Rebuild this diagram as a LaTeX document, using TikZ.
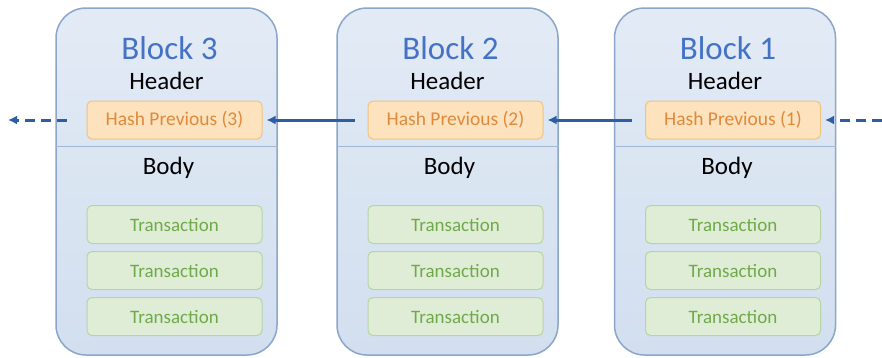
\documentclass[tikz,border=0pt]{standalone}
\usepackage{fontspec}
\setmainfont{Carlito}
\usetikzlibrary{arrows.meta,positioning,calc}
\definecolor{blkfill}{HTML}{D6E2F1}
\definecolor{blkline}{HTML}{8AA6CB}
\definecolor{blktitle}{HTML}{4472C4}
\definecolor{hashfill}{HTML}{FCE3BD}
\definecolor{hashline}{HTML}{F2C27A}
\definecolor{hashtext}{HTML}{E0893B}
\definecolor{txfill}{HTML}{E0EDD6}
\definecolor{txline}{HTML}{B7D4A3}
\definecolor{txtext}{HTML}{6FAA4A}
\definecolor{chain}{HTML}{2F5DA3}

\tikzset{
  blockbox/.style={draw=blkline, line width=1.5pt, rounded corners=30pt, top color=blkfill!70!white, bottom color=blkfill!95!blkline, minimum width=221pt, minimum height=347pt},
  hashbox/.style={draw=hashline, line width=1pt, fill=hashfill, rounded corners=5pt, minimum width=175pt, minimum height=38pt, text=hashtext, font=\fontsize{19.5}{21}\selectfont},
  txbox/.style={draw=txline, line width=1pt, fill=txfill, rounded corners=5pt, minimum width=175pt, minimum height=38pt, text=txtext, font=\fontsize{19}{21}\selectfont},
  link/.style={chain, line width=3pt, -{Latex[length=9pt,width=9pt]}},
}

\begin{document}
\begin{tikzpicture}[x=1pt,y=-1pt]
\useasboundingbox (0,0) rectangle (882,357);
\foreach \n/\x in {3/166.5, 2/447.5, 1/725} {
  \node[blockbox] (blk\n) at (\x,181.5) {};
  \node[text=blktitle, font=\fontsize{33}{35}\selectfont] (title\n) at (\x+3,48) {Block \n};
  \node[font=\fontsize{25}{27}\selectfont] (head\n) at (\x,81) {Header};
  \node[hashbox] (hash\n) at (\x+8,120) {Hash Previous (\n)};
  \draw[blkline!80!white, line width=1pt] (blk\n.west |- 0,146) -- (blk\n.east |- 0,146);
  \node[font=\fontsize{25}{27}\selectfont] (body\n) at (\x+2,168) {Body};
  \node[txbox] (txa\n) at (\x+8,224.5) {Transaction};
  \node[txbox, below=7pt of txa\n] (txb\n) {Transaction};
  \node[txbox, below=7pt of txb\n] (txc\n) {Transaction};
}
% links between blocks
\coordinate (farleft) at (8,120);
\coordinate (farright) at (882,120);
\draw[link] ([xshift=-13pt]hash2.west) -- ([xshift=4pt]hash3.east);
\draw[link] ([xshift=-13pt]hash1.west) -- ([xshift=4pt]hash2.east);
\draw[link, dashed, dash pattern=on 10pt off 6pt] ([xshift=-20pt]hash3.west) -- (farleft);
\draw[link, dashed, dash pattern=on 10pt off 6pt] (farright) -- ([xshift=4pt]hash1.east);
\end{tikzpicture}
\end{document}
